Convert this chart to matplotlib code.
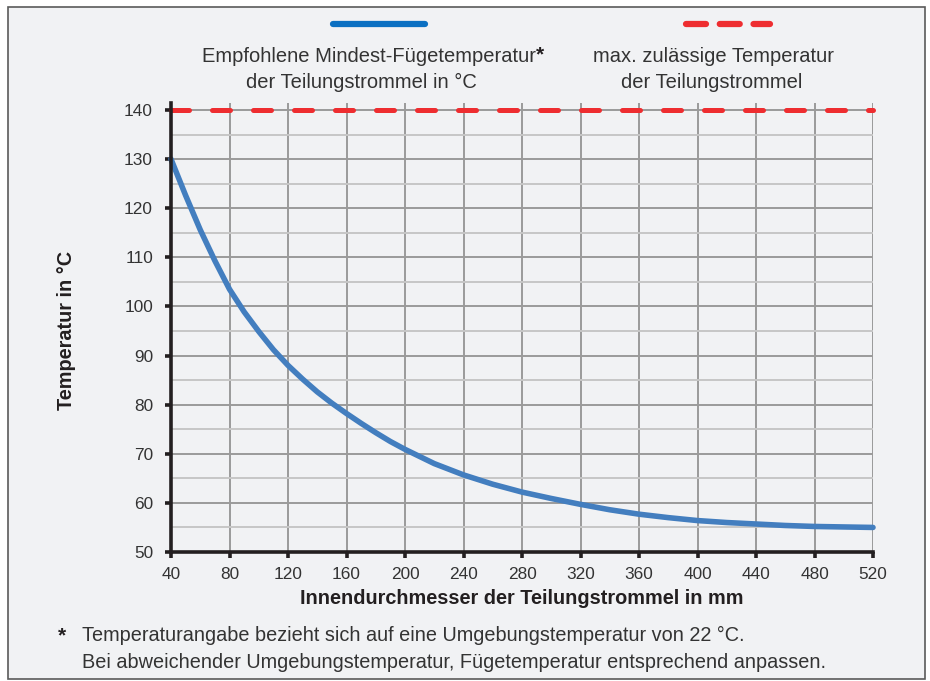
import numpy as np
import matplotlib
matplotlib.use('Agg')
import matplotlib.pyplot as plt
from matplotlib.lines import Line2D
from matplotlib.patches import Rectangle
from matplotlib.ticker import MultipleLocator

plt.rcParams['font.family'] = ['Liberation Sans', 'DejaVu Sans']

# data
diameter = [40, 50, 60, 70, 80, 90, 100, 110, 120, 130, 140, 150, 160, 170,
            180, 190, 200, 220, 240, 260, 280, 300, 320, 340, 360, 380, 400,
            420, 440, 460, 480, 500, 520]
temp_min = [130.0, 122.6, 115.6, 109.3, 103.5, 98.9, 94.9, 91.2, 88.0, 85.2,
            82.6, 80.3, 78.2, 76.2, 74.3, 72.5, 70.9, 68.0, 65.7, 63.8, 62.2,
            60.9, 59.7, 58.6, 57.7, 57.0, 56.4, 56.0, 55.7, 55.4, 55.2, 55.1, 55.0]
temp_max = 140
x_ticks = list(range(40, 521, 40))
y_ticks = list(range(50, 141, 10))

blue = '#437ebf'
blue_leg = '#0b70c2'
red = '#ee2d30'
bg = '#f1f2f4'
txt = '#333333'
W, H = 930, 681

fig = plt.figure(figsize=(9.3, 6.81), dpi=100, facecolor='white')
fig.add_artist(Rectangle((8 / W, 2 / H), 917 / W, 672 / H, transform=fig.transFigure,
                         facecolor=bg, edgecolor='#5a5a5a', linewidth=1.2, zorder=0))

ax = fig.add_axes([171 / W, 1 - 552 / H, 702 / W, (552 - 102.6) / H])
ax.set_facecolor('none')
ax.set_xlim(40, 520)
ax.set_ylim(50, 141.5)

ax.set_xticks(x_ticks)
ax.set_yticks(y_ticks)
ax.yaxis.set_minor_locator(MultipleLocator(5))
ax.grid(which='major', color='#9a9a9a', linewidth=1.4)
ax.grid(which='minor', axis='y', color='#c6c6c6', linewidth=1.4)
ax.set_axisbelow(True)

for s in ['top', 'right']:
    ax.spines[s].set_visible(False)
for s in ['left', 'bottom']:
    ax.spines[s].set_linewidth(2.6)
    ax.spines[s].set_color('#231f20')
    ax.spines[s].set_zorder(5)

ax.tick_params(axis='both', which='major', length=4, width=2.6, color='#231f20',
               labelsize=12.4, labelcolor=txt)
ax.tick_params(axis='y', which='minor', length=0)
ax.tick_params(axis='y', pad=9)
ax.tick_params(axis='x', pad=7)

ax.plot(diameter, temp_min, color=blue, linewidth=4, solid_capstyle='round',
        solid_joinstyle='round', zorder=4, clip_on=False)
ax.plot([diameter[0], diameter[-1]], [temp_max, temp_max], color=red, linewidth=3.6,
        dashes=(3.6, 4.6), dash_capstyle='round', zorder=4, clip_on=False)

ax.set_xlabel('Innendurchmesser der Teilungstrommel in mm', fontsize=14.3,
              fontweight='bold', color='#231f20')
ax.xaxis.set_label_coords(0.5, -0.082)
fig.text(67 / W, 1 - 330 / H, 'Temperatur in °C', rotation=90, ha='center', va='center',
         fontsize=14.3, fontweight='bold', color='#231f20')

# legend drawn above the plot
fig.add_artist(Line2D([333 / W, 425 / W], [1 - 24 / H] * 2, color=blue_leg, linewidth=4.5,
                      solid_capstyle='round', transform=fig.transFigure))
fig.add_artist(Line2D([686 / W, 770 / W], [1 - 24 / H] * 2, color=red, linewidth=4.5,
                      dashes=(3.2, 2.2), dash_capstyle='round', transform=fig.transFigure))
fig.text(536 / W, 1 - 57 / H, 'Empfohlene Mindest-Fügetemperatur', ha='right', va='center',
         fontsize=14.5, color=txt)
fig.text(536 / W, 1 - 55 / H, '*', ha='left', va='center', fontsize=15,
         fontweight='bold', color='#231f20')
fig.text(361 / W, 1 - 82 / H, 'der Teilungstrommel in °C', ha='center', va='center',
         fontsize=14.5, color=txt)
fig.text(713 / W, 1 - 57 / H, 'max. zulässige Temperatur', ha='center', va='center',
         fontsize=14.5, color=txt)
fig.text(712 / W, 1 - 82 / H, 'der Teilungstrommel', ha='center', va='center',
         fontsize=14.5, color=txt)

# footnote
fig.text(58 / W, 1 - 636 / H, '*', ha='left', va='center', fontsize=15,
         fontweight='bold', color='#231f20')
fig.text(82 / W, 1 - 635 / H, 'Temperaturangabe bezieht sich auf eine Umgebungstemperatur von 22 °C.',
         ha='left', va='center', fontsize=14.3, color=txt)
fig.text(82 / W, 1 - 662 / H, 'Bei abweichender Umgebungstemperatur, Fügetemperatur entsprechend anpassen.',
         ha='left', va='center', fontsize=14.3, color=txt)

fig.savefig('out.png', dpi=100, facecolor=fig.get_facecolor())
